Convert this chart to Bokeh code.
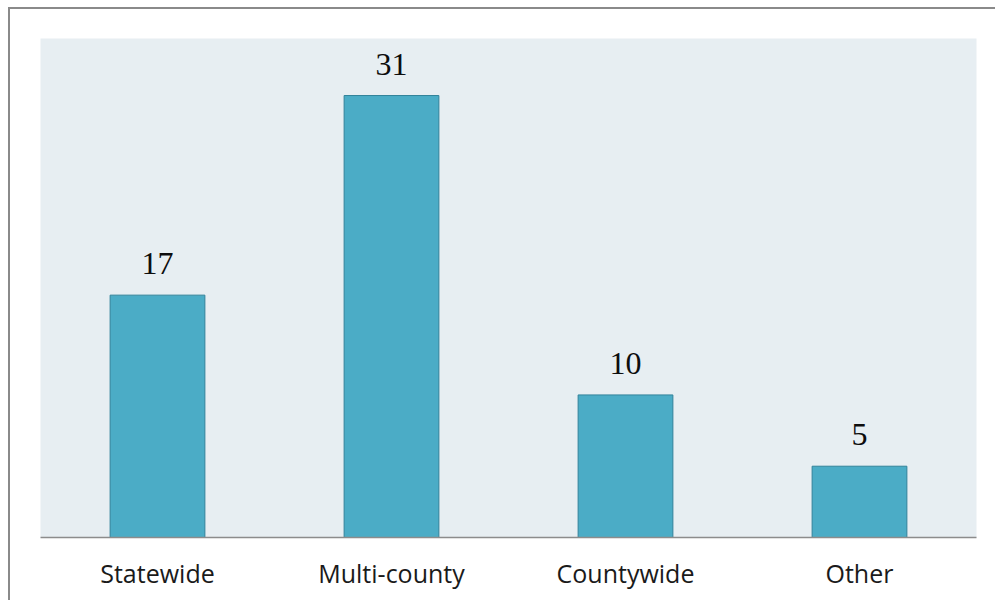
from bokeh.plotting import figure
from bokeh.models import ColumnDataSource, FactorRange, Range1d
from bokeh.core.properties import value
from bokeh.embed import file_html
from bokeh.resources import INLINE

# Counts by coverage area
categories = ["Statewide", "Multi-county", "Countywide", "Other"]
counts = [17, 31, 10, 5]

source = ColumnDataSource(data=dict(
    cat=categories,
    count=counts,
    label=[str(c) for c in counts],
))

p = figure(
    width=987, height=593,
    x_range=FactorRange(*categories, range_padding=0),
    y_range=Range1d(0, 35),
    output_backend="svg", toolbar_location=None,
    min_border_left=30, min_border_right=21,
    min_border_top=29, min_border_bottom=65,
)
# grey frame drawn around the whole chart
p.margin = (7, 0, 0, 8)
p.styles = {"border-left": "2px solid #8A8A8A", "border-top": "2px solid #8A8A8A"}

p.background_fill_color = "#E7EEF2"
p.border_fill_color = "white"
p.outline_line_color = None

p.vbar(x="cat", top="count", width=0.405, source=source,
       fill_color="#4BACC6", line_color="#32839A", line_width=1)

p.text(x="cat", y="count", text="label", source=source,
       text_align="center", text_baseline="bottom", y_offset=-21,
       text_font=value("Liberation Serif"), text_font_size="32px",
       text_color="#0D0D0D")

# Axes: only a grey baseline with category names underneath
p.yaxis.visible = False
p.xgrid.grid_line_color = None
p.ygrid.grid_line_color = None
p.xaxis.axis_line_color = "#8C8C8C"
p.xaxis.axis_line_width = 1.5
p.xaxis.major_tick_line_color = None
p.xaxis.minor_tick_line_color = None
p.xaxis.major_label_text_font = "Open Sans"
p.xaxis.major_label_text_font_size = "25px"
p.xaxis.major_label_text_color = "#1A1A1A"
p.xaxis.major_label_standoff = 12

open("out.html", "w").write(file_html(p, INLINE))
